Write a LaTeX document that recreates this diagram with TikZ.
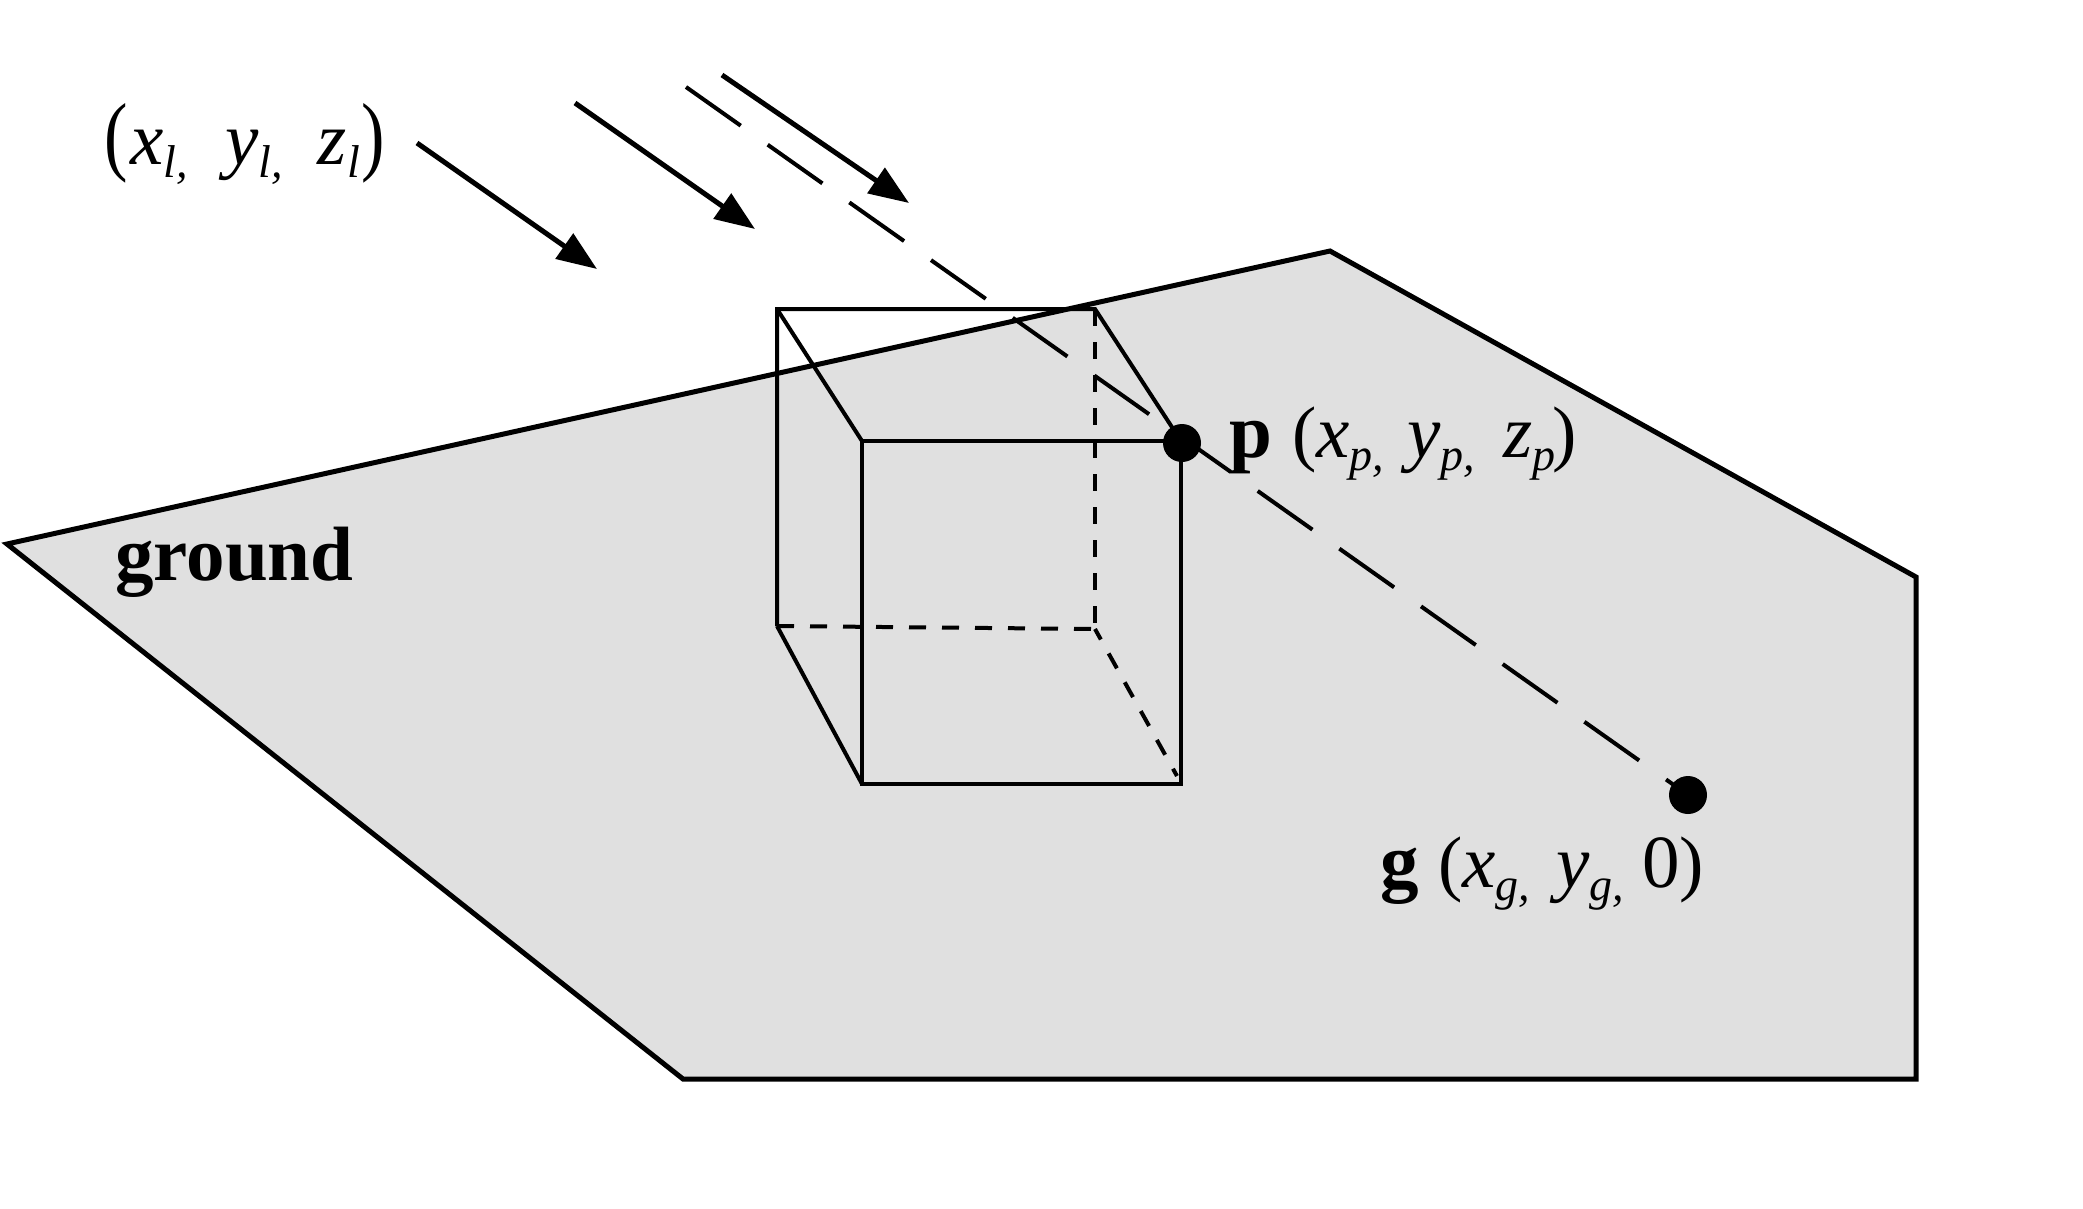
\documentclass[tikz,border=0pt]{standalone}
\usepackage{graphicx}
\usepackage{fontspec}
\setmainfont{Liberation Serif}
\usetikzlibrary{arrows.meta}
\newcommand{\lowsub}[1]{\raisebox{-13pt}{\fontsize{46}{46}\selectfont\itshape #1}}
\newcommand{\lp}{\scalebox{0.8}[1]{\fontsize{88}{88}\selectfont (}}
\newcommand{\rp}{\scalebox{0.8}[1]{\fontsize{88}{88}\selectfont )}}
\newcommand{\slp}{{\fontsize{73}{73}\selectfont (}}
\newcommand{\srp}{{\fontsize{73}{73}\selectfont )}}
\tikzset{
  px/.style={x=1pt,y=-1pt},
  groundarea/.style={fill=groundgray,draw=black,line width=5pt,line join=miter},
  cubeedge/.style={draw=black,line width=4pt,line join=miter},
  cubehidden/.style={draw=black,line width=4pt,dash pattern=on 17pt off 16pt},
  ray/.style={draw=black,line width=4pt,dash pattern=on 67pt off 33pt},
  lightarrow/.style={draw=black,line width=5pt,-{Triangle[length=40pt,width=30pt]}},
  pointdot/.style={circle,fill=black,inner sep=0pt,minimum size=38pt},
  label/.style={anchor=base west,inner sep=0pt,font=\fontsize{75}{80}\selectfont},
  boldlabel/.style={anchor=base west,inner sep=0pt,font=\fontsize{77}{80}\selectfont\bfseries}
}
\definecolor{groundgray}{RGB}{224,224,224}
\begin{document}
\begin{tikzpicture}[px]
\useasboundingbox (0,0) rectangle (2083,1208);
\fill[white] (0,0) rectangle (2083,1208);
% ground
\path[groundarea] (7,544) -- (1330,251) -- (1916,577) -- (1916,1079) -- (683,1079) -- cycle;
% cube corners
\coordinate (btl) at (777,309);
\coordinate (btr) at (1095,309);
\coordinate (ftl) at (862,441);
\coordinate (ftr) at (1181,441);
\coordinate (fbl) at (862,784);
\coordinate (fbr) at (1181,784);
\coordinate (bbl) at (777,626);
\coordinate (bbr) at (1095,629);
\coordinate (hiddenend) at (1177,776);
% hidden edges
\draw[cubehidden] (btr) -- (bbr);
\draw[cubehidden] (bbl) -- (bbr);
\draw[cubehidden,dash phase=5pt] (bbr) -- (hiddenend);
% visible edges
\draw[cubeedge] (ftl) -- (ftr) -- (fbr) -- (fbl) -- cycle;
\draw[cubeedge] (bbl) -- (btl) -- (btr) -- (ftr);
\draw[cubeedge] (btl) -- (ftl);
\draw[cubeedge] (bbl) -- (fbl);
% light rays
\coordinate (a1s) at (417,143); \coordinate (a1e) at (597,269);
\coordinate (a2s) at (575,103); \coordinate (a2e) at (755,229);
\coordinate (a3s) at (722,75);  \coordinate (a3e) at (909,203);
\draw[lightarrow] (a1s) -- (a1e);
\draw[lightarrow] (a2s) -- (a2e);
\draw[lightarrow] (a3s) -- (a3e);
% points
\node[pointdot] (p) at (1182,443) {};
\node[pointdot] (g) at (1688,795) {};
\coordinate (raystart) at (686,87);
\draw[ray] (raystart) -- (g.center);
% labels
\node[label] (light) at (104,164) {\lp\hspace{3pt}\textit{x}\lowsub{l,}\hspace{37pt}\textit{y}\lowsub{l,}\hspace{35pt}\textit{z}\lowsub{l}\hspace{2pt}\rp};
\node[boldlabel] (ground) at (115,580) {ground};
\node[boldlabel] (plabel) at (1229,457) {p};
\node[label] (pcoord) at (1292,457) {\slp\textit{x}\lowsub{p,}\hspace{23pt}\textit{y}\lowsub{p,}\hspace{28pt}\textit{z}\lowsub{p}\hspace{-3pt}\srp};
\node[boldlabel] (glabel) at (1380,887) {g};
\node[label] (gcoord) at (1438,887) {\slp\textit{x}\lowsub{g,}\hspace{26pt}\textit{y}\lowsub{g,}\hspace{18pt}0\srp};
\end{tikzpicture}
\end{document}
